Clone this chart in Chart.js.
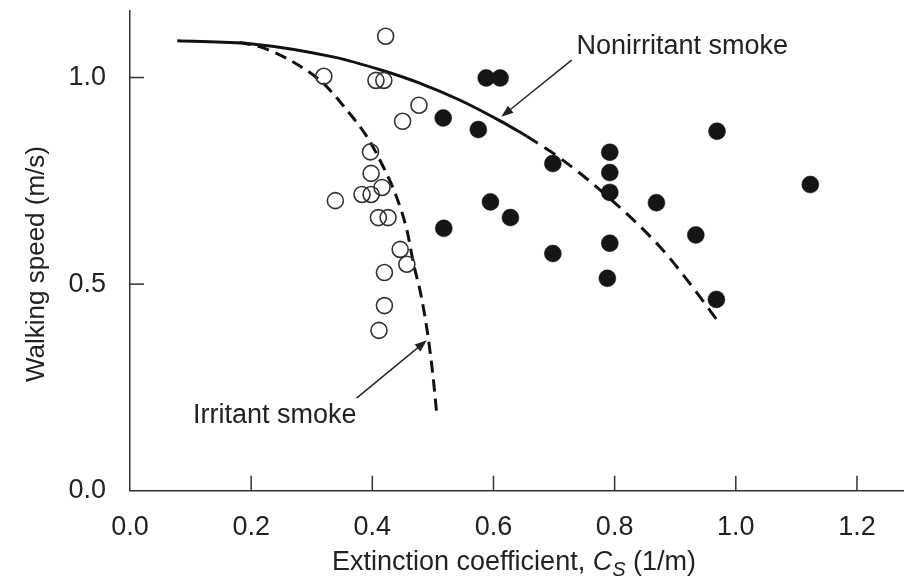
<!DOCTYPE html>
<html>
<head>
<meta charset="utf-8">
<script src="https://cdn.jsdelivr.net/npm/chart.js@4.4.0/dist/chart.umd.min.js"></script>
<style>
  html, body { margin: 0; padding: 0; background: #fff; }
</style>
</head>
<body>
<canvas id="graph" width="906" height="580"></canvas>
<script>
var xTicks = [0.0, 0.2, 0.4, 0.6, 0.8, 1.0, 1.2];
var yTicks = [0.0, 0.5, 1.0];

// open circles (irritant smoke)
var irritantPoints = [
  [0.422, 1.100], [0.320, 1.003], [0.406, 0.993], [0.419, 0.993],
  [0.477, 0.933], [0.450, 0.894], [0.397, 0.820], [0.398, 0.768],
  [0.416, 0.734], [0.383, 0.717], [0.398, 0.717], [0.339, 0.702],
  [0.410, 0.661], [0.426, 0.661], [0.446, 0.584], [0.457, 0.548],
  [0.420, 0.528], [0.420, 0.448], [0.411, 0.388]
];

// filled circles (nonirritant smoke)
var nonirritantPoints = [
  [0.588, 0.999], [0.611, 0.999], [0.517, 0.902], [0.575, 0.874],
  [0.698, 0.792], [0.792, 0.819], [0.792, 0.770], [0.792, 0.722],
  [0.595, 0.699], [0.628, 0.661], [0.518, 0.635], [0.792, 0.599],
  [0.698, 0.574], [0.869, 0.697], [0.969, 0.870], [1.123, 0.741],
  [0.934, 0.619], [0.788, 0.514], [0.968, 0.463]
];

// fitted curves
var irritantCurve = [
  [0.180, 1.085], [0.215, 1.074], [0.264, 1.042], [0.319, 0.986],
  [0.358, 0.921], [0.391, 0.857], [0.418, 0.784], [0.440, 0.711],
  [0.457, 0.631], [0.468, 0.550], [0.481, 0.469], [0.492, 0.373],
  [0.500, 0.280], [0.506, 0.191]
];
var nonirritantSolid = [
  [0.078, 1.089], [0.198, 1.082], [0.335, 1.050], [0.417, 1.017],
  [0.479, 0.986], [0.545, 0.945], [0.611, 0.895], [0.655, 0.858]
];
var nonirritantDashed = [
  [0.655, 0.858], [0.710, 0.805], [0.797, 0.701], [0.875, 0.590],
  [0.916, 0.517], [0.969, 0.413]
];

var noteText = ["Nonirritant smoke", "Irritant smoke"];
var noteAt = [[0.737, 1.057], [0.104, 0.165]];
var arrowFrom = [[0.729, 1.042], [0.374, 0.224]];
var arrowTo = [[0.613, 0.905], [0.490, 0.364]];

var FONT = "'Liberation Sans', Arial, Helvetica, sans-serif";
var INK = "#222";

function toXY(list) {
  return list.map(function (p) { return { x: p[0], y: p[1] }; });
}

var extras = {
  id: "extras",
  afterDraw: function (c) {
    var ctx = c.ctx;
    var xs = c.scales.x, ys = c.scales.y;
    ctx.save();

    // tick marks pointing into the plot
    ctx.strokeStyle = "#333";
    ctx.lineWidth = 1.5;
    xTicks.forEach(function (v) {
      if (v === 0) return;
      var px = xs.getPixelForValue(v);
      ctx.beginPath();
      ctx.moveTo(px, ys.bottom);
      ctx.lineTo(px, ys.bottom - 15);
      ctx.stroke();
    });
    yTicks.forEach(function (v) {
      if (v === 0) return;
      var py = ys.getPixelForValue(v);
      ctx.beginPath();
      ctx.moveTo(xs.left, py);
      ctx.lineTo(xs.left + 14, py);
      ctx.stroke();
    });

    // notes + arrows
    ctx.fillStyle = INK;
    ctx.font = "27px " + FONT;
    ctx.textAlign = "left";
    ctx.textBaseline = "alphabetic";
    for (var i = 0; i < noteText.length; i++) {
      ctx.fillText(noteText[i], xs.getPixelForValue(noteAt[i][0]), ys.getPixelForValue(noteAt[i][1]));
      var x0 = xs.getPixelForValue(arrowFrom[i][0]), y0 = ys.getPixelForValue(arrowFrom[i][1]);
      var x1 = xs.getPixelForValue(arrowTo[i][0]), y1 = ys.getPixelForValue(arrowTo[i][1]);
      var ang = Math.atan2(y1 - y0, x1 - x0);
      ctx.strokeStyle = "#222";
      ctx.lineWidth = 1.4;
      ctx.beginPath();
      ctx.moveTo(x0, y0);
      ctx.lineTo(x1 - 8 * Math.cos(ang), y1 - 8 * Math.sin(ang));
      ctx.stroke();
      ctx.beginPath();
      ctx.moveTo(x1, y1);
      ctx.lineTo(x1 - 12 * Math.cos(ang) + 4.5 * Math.sin(ang), y1 - 12 * Math.sin(ang) - 4.5 * Math.cos(ang));
      ctx.lineTo(x1 - 12 * Math.cos(ang) - 4.5 * Math.sin(ang), y1 - 12 * Math.sin(ang) + 4.5 * Math.cos(ang));
      ctx.closePath();
      ctx.fill();
    }

    // x title with italic C and subscript S
    var parts = [
      ["Extinction coefficient, ", "27px " + FONT, 0],
      ["C", "italic 27px " + FONT, 0],
      ["S", "italic 20px " + FONT, 6],
      [" (1/m)", "27px " + FONT, 0]
    ];
    var total = 0;
    parts.forEach(function (p) { ctx.font = p[1]; total += ctx.measureText(p[0]).width; });
    var tx = 514 - total / 2;
    var base = 570;
    parts.forEach(function (p) {
      ctx.font = p[1];
      ctx.fillText(p[0], tx, base + p[2]);
      tx += ctx.measureText(p[0]).width;
    });

    // y title
    ctx.font = "26px " + FONT;
    ctx.translate(43.5, 264);
    ctx.rotate(-Math.PI / 2);
    ctx.textAlign = "center";
    ctx.fillText("Walking speed (m/s)", 0, 0);

    ctx.restore();
  }
};

var chart = new Chart(document.getElementById("graph").getContext("2d"), {
  type: "scatter",
  data: {
    datasets: [
      {
        label: "Nonirritant smoke data",
        data: toXY(nonirritantPoints),
        pointRadius: 8.5,
        pointBackgroundColor: "#151515",
        pointBorderColor: "#151515",
        pointBorderWidth: 0.5,
        showLine: false
      },
      {
        label: "Irritant smoke data",
        data: toXY(irritantPoints),
        pointRadius: 8,
        pointBackgroundColor: "rgba(255,255,255,0)",
        pointBorderColor: "#333",
        pointBorderWidth: 1.6,
        showLine: false
      },
      {
        label: "Nonirritant fit",
        data: toXY(nonirritantSolid),
        showLine: true,
        pointRadius: 0,
        borderColor: "#111",
        borderWidth: 3,
        cubicInterpolationMode: "monotone"
      },
      {
        label: "Nonirritant fit (extrapolated)",
        data: toXY(nonirritantDashed),
        showLine: true,
        pointRadius: 0,
        borderColor: "#111",
        borderWidth: 3,
        borderDash: [13, 8],
        cubicInterpolationMode: "monotone"
      },
      {
        label: "Irritant fit",
        data: toXY(irritantCurve),
        showLine: true,
        pointRadius: 0,
        borderColor: "#111",
        borderWidth: 3,
        borderDash: [12, 7],
        cubicInterpolationMode: "monotone"
      }
    ]
  },
  options: {
    responsive: false,
    devicePixelRatio: 1,
    animation: false,
    layout: { autoPadding: false, padding: { left: 0, right: 3, top: 11, bottom: 0 } },
    plugins: {
      legend: { display: false },
      tooltip: { enabled: false }
    },
    scales: {
      x: {
        type: "linear",
        min: 0,
        max: 1.276,
        afterBuildTicks: function (s) { s.ticks = xTicks.map(function (v) { return { value: v }; }); },
        afterFit: function (s) { s.height = 89.3; s.paddingLeft = 0; s.paddingRight = 0; },
        grid: { display: false },
        border: { display: true, color: "#333", width: 1.5 },
        ticks: {
          font: { family: FONT, size: 27 },
          color: INK,
          padding: 13,
          maxRotation: 0,
          autoSkip: false,
          callback: function (v) { return Number(v).toFixed(1); }
        }
      },
      y: {
        type: "linear",
        min: 0,
        max: 1.161,
        afterBuildTicks: function (s) { s.ticks = yTicks.map(function (v) { return { value: v }; }); },
        afterFit: function (s) { s.width = 130; s.paddingTop = 0; s.paddingBottom = 0; },
        grid: { display: false },
        border: { display: true, color: "#333", width: 1.5 },
        ticks: {
          font: { family: FONT, size: 27 },
          color: INK,
          padding: 16,
          autoSkip: false,
          callback: function (v) { return Number(v).toFixed(1); }
        }
      }
    }
  },
  plugins: [extras]
});
</script>
</body>
</html>
